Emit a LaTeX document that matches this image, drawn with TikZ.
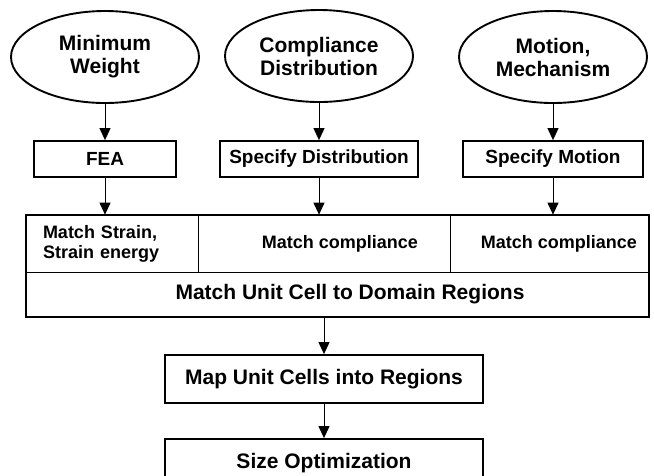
\documentclass[tikz,border=0pt]{standalone}
\usepackage{fontspec}
\setmainfont{Liberation Sans}
\usetikzlibrary{positioning}
\usetikzlibrary{arrows.meta}
\usetikzlibrary{shapes.geometric}

\begin{document}
\begin{tikzpicture}[x=1pt, y=-1pt,
    goal/.style={draw, ellipse, line width=1.9pt, minimum width=188pt, minimum height=92pt, inner sep=0pt, align=center, font=\fontsize{21}{23}\selectfont\bfseries},
    stepbox/.style={draw, rectangle, line width=1.8pt, minimum height=36pt, inner sep=0pt, font=\fontsize{19}{21}\selectfont\bfseries},
    cell/.style={draw, rectangle, line width=0.7pt, minimum height=57pt, inner sep=0pt, font=\fontsize{18}{20}\selectfont\bfseries},
    bigbox/.style={draw, rectangle, line width=1.8pt, minimum width=318pt, minimum height=48pt, inner sep=0pt, font=\fontsize{21}{24}\selectfont\bfseries},
    >={Triangle[length=12pt,width=11pt]}]
    \useasboundingbox (0,0) rectangle (654,475);
    \clip (0,0) rectangle (654,475);

    % Design goals
    \node[goal] (weight) at (105,57) {Minimum\\Weight};
    \node[goal] (compl) at (319,56) {Compliance\\Distribution};
    \node[goal] (motion) at (553,57) {Motion,\\Mechanism};

    % Analysis steps
    \node[stepbox, minimum width=142pt] (fea) at (105,159) {FEA};
    \node[stepbox, minimum width=198pt] (specdist) at (319,159) {Specify Distribution};
    \node[stepbox, minimum width=180pt] (specmot) at (553,159) {Specify Motion};

    % Matching table
    \node[cell, text width=138pt, inner xsep=17pt, align=left] (strain) at (112,243.5) {Match Strain,\\Strain energy};
    \node[cell, minimum width=252pt] (matchB) at (324,243.5) {\hspace*{32pt}Match compliance};
    \node[cell, minimum width=199pt] (matchC) at (549.5,243.5) {\hspace*{19pt}Match compliance};
    \node[cell, minimum width=623pt, minimum height=45pt, font=\fontsize{21}{24}\selectfont\bfseries] (unitcell) at (337.5,294.5) {\hspace*{25pt}Match Unit Cell to Domain Regions};
    \draw[line width=1.8pt] (strain.north west) rectangle (unitcell.south east);

    % Final steps
    \node[bigbox] (mapcells) at (324,379) {Map Unit Cells into Regions};
    \node[bigbox] (sizeopt) at (324,463) {Size Optimization};

    \draw[->, line width=1pt] (weight) -- (fea);
    \draw[->, line width=1pt] (compl) -- (specdist);
    \draw[->, line width=1pt] (motion) -- (specmot);
    \draw[->, line width=1pt] (fea.south) -- (fea.south |- strain.north);
    \draw[->, line width=1pt] (specdist.south) -- (specdist.south |- matchB.north);
    \draw[->, line width=1pt] (specmot.south) -- (specmot.south |- matchC.north);
    \draw[->, line width=1pt] (mapcells.north |- unitcell.south) -- (mapcells.north);
    \draw[->, line width=1pt] (mapcells) -- (sizeopt);
\end{tikzpicture}
\end{document}
